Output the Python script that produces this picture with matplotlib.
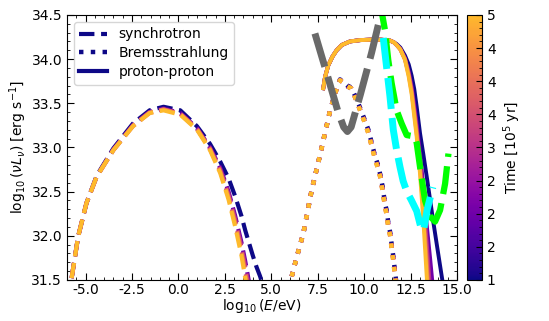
import numpy as np
import matplotlib
matplotlib.use('Agg')
import matplotlib.pyplot as plt
from matplotlib.colors import ListedColormap, Normalize
from matplotlib.ticker import AutoMinorLocator, MultipleLocator, FormatStrFormatter

# times in units of 1e5 yr
times = [1, 2, 3, 4, 5]

# synchrotron (dashed), log10(E/eV) vs log10(nu L_nu)
sync_x = [-5.75, -5.4, -4.95, -4.4, -3.5, -2.45, -1.55, -0.8, 0.1, 1.0, 1.7, 2.25,
          2.7, 3.05, 3.4, 3.6, 3.8, 4.0, 4.2, 4.4, 4.6]
sync_y = {
    1: [31.52, 31.99, 32.37, 32.68, 32.99, 33.27, 33.42, 33.46, 33.42, 33.24, 33.04, 32.84,
        32.65, 32.45, 32.22, 32.06, 31.92, 31.78, 31.65, 31.54, 31.40],
    2: [31.52, 31.99, 32.37, 32.67, 32.98, 33.25, 33.40, 33.44, 33.39, 33.22, 33.00, 32.77,
        32.50, 32.23, 31.92, 31.71, 31.48, 31.22, 30.90, 30.50, 30.10],
    3: [31.52, 31.99, 32.37, 32.67, 32.97, 33.25, 33.40, 33.43, 33.38, 33.21, 32.99, 32.75,
        32.47, 32.19, 31.87, 31.65, 31.41, 31.13, 30.80, 30.40, 30.00],
    4: [31.52, 31.99, 32.37, 32.67, 32.97, 33.24, 33.39, 33.43, 33.38, 33.21, 32.98, 32.73,
        32.44, 32.15, 31.82, 31.59, 31.33, 31.05, 30.70, 30.30, 29.90],
    5: [31.52, 31.99, 32.37, 32.67, 32.97, 33.24, 33.39, 33.42, 33.37, 33.20, 32.97, 32.71,
        32.41, 32.11, 31.77, 31.52, 31.25, 30.95, 30.60, 30.20, 29.80],
}

# Bremsstrahlung (dotted)
brem_x = [6.1, 6.4, 6.73, 7.18, 7.62, 8.16, 8.45, 8.7, 8.9, 9.1, 9.3, 9.55, 9.78, 10.0,
          10.23, 10.4, 10.59, 10.75, 10.86, 11.0, 11.12, 11.2, 11.3, 11.4, 11.49, 11.58,
          11.66, 11.8]
brem_y = {
    1: [31.54, 31.78, 32.03, 32.52, 32.91, 33.41, 33.63, 33.77, 33.74, 33.70, 33.68, 33.57,
        33.45, 33.33, 33.20, 33.06, 32.90, 32.80, 32.70, 32.55, 32.37, 32.30, 32.15, 32.04,
        31.89, 31.75, 31.60, 31.35],
    2: [31.54, 31.78, 32.03, 32.52, 32.91, 33.41, 33.62, 33.76, 33.74, 33.69, 33.67, 33.56,
        33.43, 33.31, 33.18, 33.04, 32.89, 32.78, 32.69, 32.52, 32.36, 32.27, 32.13, 32.02,
        31.87, 31.73, 31.58, 31.33],
    3: [31.54, 31.78, 32.03, 32.52, 32.91, 33.41, 33.62, 33.76, 33.73, 33.69, 33.67, 33.55,
        33.43, 33.31, 33.17, 33.03, 32.88, 32.77, 32.68, 32.51, 32.35, 32.26, 32.12, 32.01,
        31.86, 31.72, 31.56, 31.32],
    4: [31.54, 31.78, 32.03, 32.52, 32.91, 33.41, 33.62, 33.76, 33.73, 33.69, 33.67, 33.55,
        33.42, 33.30, 33.16, 33.02, 32.87, 32.76, 32.67, 32.50, 32.34, 32.25, 32.11, 32.00,
        31.85, 31.71, 31.55, 31.31],
    5: [31.54, 31.78, 32.03, 32.52, 32.91, 33.41, 33.62, 33.76, 33.73, 33.69, 33.67, 33.55,
        33.42, 33.30, 33.16, 33.02, 32.86, 32.76, 32.67, 32.50, 32.33, 32.25, 32.10, 32.00,
        31.84, 31.70, 31.54, 31.30],
}

# proton-proton (solid)
pp_x = [7.8, 7.9, 8.07, 8.3, 8.52, 8.8, 9.24, 9.8, 10.32, 10.9, 11.39, 11.6, 11.75, 11.95,
        12.2, 12.4, 12.56, 12.7, 12.83, 13.01, 13.19, 13.37, 13.55, 13.73, 13.95, 14.18, 14.5]
pp_y = {
    1: [33.67, 33.80, 33.93, 34.03, 34.10, 34.16, 34.20, 34.215, 34.22, 34.22, 34.21, 34.19,
        34.17, 34.13, 34.04, 33.94, 33.81, 33.66, 33.46, 33.16, 32.92, 32.67, 32.41, 32.15,
        31.85, 31.54, 31.10],
    2: [33.67, 33.80, 33.93, 34.03, 34.10, 34.16, 34.20, 34.215, 34.22, 34.22, 34.21, 34.19,
        34.16, 34.12, 34.01, 33.86, 33.69, 33.48, 33.27, 32.93, 32.55, 32.12, 31.75, 31.35,
        30.80, 30.20, 29.40],
    3: [33.67, 33.80, 33.93, 34.03, 34.10, 34.16, 34.20, 34.215, 34.22, 34.22, 34.21, 34.19,
        34.16, 34.11, 34.00, 33.84, 33.66, 33.43, 33.21, 32.85, 32.42, 31.92, 31.40, 30.90,
        30.30, 29.60, 28.80],
    4: [33.67, 33.80, 33.93, 34.03, 34.10, 34.16, 34.20, 34.215, 34.22, 34.22, 34.21, 34.19,
        34.16, 34.11, 34.00, 33.82, 33.63, 33.39, 33.16, 32.77, 32.28, 31.72, 31.10, 30.50,
        29.80, 29.00, 28.00],
    5: [33.67, 33.80, 33.93, 34.03, 34.10, 34.16, 34.20, 34.215, 34.22, 34.22, 34.21, 34.19,
        34.16, 34.11, 33.99, 33.80, 33.60, 33.35, 33.12, 32.70, 32.17, 31.54, 30.90, 30.20,
        29.40, 28.60, 27.50],
}

# instrument sensitivity curves
gray_x = [7.35, 8.0, 8.6, 8.9, 9.1, 9.3, 9.8, 10.4, 10.95]
gray_y = [34.29, 33.83, 33.40, 33.23, 33.18, 33.23, 33.60, 34.07, 34.55]

green_x = [10.85, 11.12, 11.3, 11.48, 11.75, 12.02, 12.29, 12.55, 12.74, 12.83, 13.01,
           13.28, 13.55, 13.82, 14.09, 14.36, 14.54]
green_y = [34.65, 34.33, 33.99, 33.73, 33.42, 33.27, 33.14, 33.13, 33.12, 33.05, 32.78,
           32.40, 32.22, 32.16, 32.29, 32.59, 32.93]

cyan_x = [11.03, 11.21, 11.39, 11.57, 11.75, 11.93, 12.1, 12.3, 12.55, 12.83, 13.05,
          13.2, 13.4, 13.7]
cyan_y = [34.24, 33.91, 33.58, 33.20, 32.97, 32.78, 32.62, 32.50, 32.40, 32.28, 32.10,
          32.06, 32.30, 32.55]

cmap = ListedColormap(plt.cm.plasma(np.linspace(0.0, 0.85, 256)))
norm = Normalize(vmin=1, vmax=5)

fig = plt.figure(figsize=(5.49, 3.21), dpi=100)
ax = fig.add_axes([0.122, 0.128, 0.7104, 0.8255])

for t in times:
    c = cmap(norm(t))
    ax.plot(sync_x, sync_y[t], '--', color=c, lw=3.0)
    ax.plot(brem_x, brem_y[t], ':', color=c, lw=3.2)
    ax.plot(pp_x, pp_y[t], '-', color=c, lw=2.8)

ax.plot(gray_x, gray_y, '--', color='dimgray', lw=5.0, dashes=(5.0, 1.5))
ax.plot(green_x, green_y, '--', color='lime', lw=4.5, dashes=(4.5, 1.5))
ax.plot(cyan_x, cyan_y, '--', color='cyan', lw=5.0, dashes=(4.5, 1.3))

# legend with navy handles
c0 = cmap(norm(times[0]))
h1, = ax.plot([], [], '--', color=c0, lw=3.0, label='synchrotron')
h2, = ax.plot([], [], ':', color=c0, lw=3.2, label='Bremsstrahlung')
h3, = ax.plot([], [], '-', color=c0, lw=3.0, label='proton-proton')
ax.legend(handles=[h1, h2, h3], loc='upper left', fontsize=10, labelspacing=0.35)

ax.set_xlim(-6, 15)
ax.set_ylim(31.5, 34.5)
ax.xaxis.set_major_locator(MultipleLocator(2.5))
ax.yaxis.set_major_locator(MultipleLocator(0.5))
ax.xaxis.set_minor_locator(AutoMinorLocator())
ax.yaxis.set_minor_locator(AutoMinorLocator())
ax.xaxis.set_major_formatter(FormatStrFormatter('%.1f'))
ax.yaxis.set_major_formatter(FormatStrFormatter('%.1f'))
ax.tick_params(which='both', direction='in', top=True, right=True, labelsize=10)
ax.tick_params(which='major', length=5)
ax.tick_params(which='minor', length=2.5)
ax.tick_params(axis='x', pad=2)
ax.set_xlabel(r'$\log_{10}(E/{\rm eV})$', fontsize=10, labelpad=0)
ax.set_ylabel(r'$\log_{10}(\nu L_\nu)$ [erg s$^{-1}$]', fontsize=10, labelpad=2)

cax = fig.add_axes([0.8506, 0.128, 0.0273, 0.8255])
sm = plt.cm.ScalarMappable(cmap=cmap, norm=norm)
cb = fig.colorbar(sm, cax=cax)
cb.set_ticks(np.arange(1, 5.01, 0.5))
cb.ax.yaxis.set_major_formatter(FormatStrFormatter('%.0f'))
cb.ax.yaxis.set_minor_locator(MultipleLocator(0.1))
cb.ax.tick_params(which='both', direction='in', labelsize=10)
cb.ax.tick_params(which='major', length=4)
cb.ax.tick_params(which='minor', length=2)
cb.set_label(r'Time [$10^5$ yr]', fontsize=10)

fig.savefig('out.png', dpi=100)
